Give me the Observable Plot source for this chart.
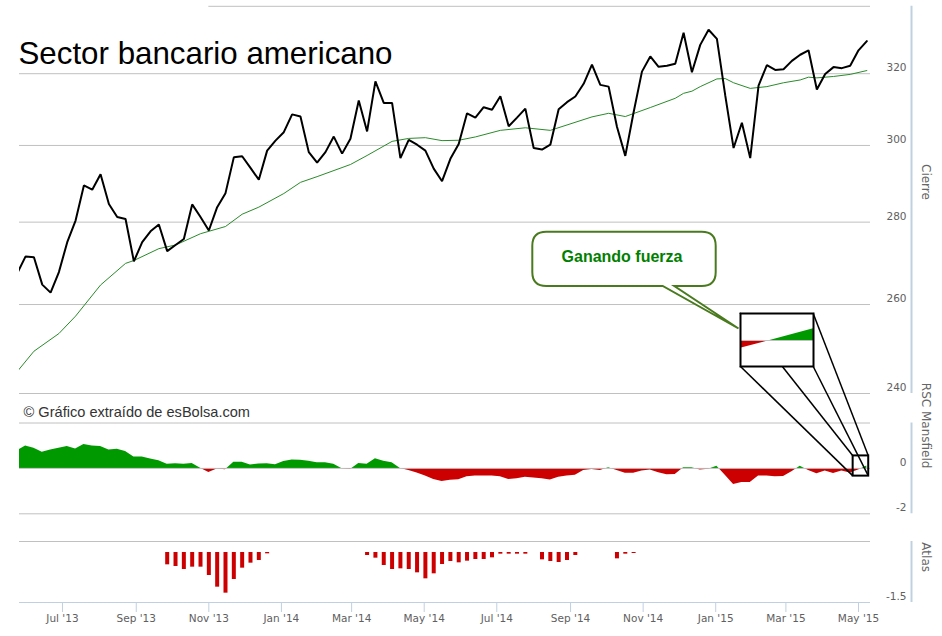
<!DOCTYPE html>
<html><head><meta charset="utf-8">
<script src="https://cdn.jsdelivr.net/npm/d3@7"></script>
<script src="https://cdn.jsdelivr.net/npm/@observablehq/plot@0.6"></script>
<style>
html,body{margin:0;padding:0;background:#fff;}
#chart{position:relative;width:942px;height:636px;overflow:hidden;background:#fff;}
</style></head><body><div id="chart"></div>
<script>
// ---------- data ----------
const titleText = "Sector bancario americano";
const sourceText = "© Gráfico extraído de esBolsa.com";
const calloutText = "Ganando fuerza";
const firstWeek = "2013-05-24"; // weekly closes (Fridays)
const closes = [267.4,271.5,271.3,264.7,262.8,267.7,275.0,280.4,289.4,288.3,
  292.3,284.6,281.3,280.8,270.3,275.0,277.7,279.4,272.8,274.3,
  275.8,284.5,281.3,277.9,283.8,287.4,296.8,297.1,294.0,290.9,
  298.6,301.3,303.6,308.5,307.9,298.2,295.4,298.2,302.4,297.8,
  301.8,312.4,303.8,317.8,311.7,311.7,296.6,301.5,300.2,298.6,
  293.8,290.5,296.4,300.4,308.8,307.6,310.5,309.8,313.6,305.2,
  307.6,310.1,299.3,298.9,300.2,309.9,311.9,313.5,317.1,322.6,
  316.8,316.3,305.1,297.2,309.1,320.6,325.0,322.0,322.3,322.9,
  332.0,320.4,328.4,332.9,330.2,313.8,299.3,306.2,296.6,316.6,
  322.5,321.1,321.3,323.7,325.5,326.8,315.5,319.9,321.9,321.6,
  322.3,326.8,329.5];
// moving average read at these week numbers
const maWeek  = [0,2,5,7,10,13,14,17,19,22,25,27,29,32,34,36,40,42,45,47,49,51,53,55,58,61,64,69,71,73,76,79,80,81,82,84,85,86,88,90,92,94,95,96,98,100,102];
const maValue = [244.8,249.3,253.3,257.3,264.6,269.8,270.5,273.4,274.3,277.1,278.9,282.0,283.8,287.3,290.2,291.7,294.9,297.3,301.1,301.9,302.1,301.3,301.4,302.3,304.1,304.8,304.1,307.8,308.8,307.9,310.4,313.0,314.4,315.0,316.3,318.5,318.6,317.4,315.8,316.3,317.4,318.2,319.0,318.8,319.2,319.8,320.9];
// RSC Mansfield, one value per week
const rsc = [0.78,0.99,0.89,0.71,0.81,0.89,0.96,0.86,1.05,0.99,
  0.97,0.81,0.84,0.74,0.50,0.50,0.41,0.34,0.18,0.21,
  0.18,0.22,0.01,-0.18,-0.03,-0.06,0.27,0.27,0.15,0.19,
  0.21,0.16,0.30,0.37,0.36,0.31,0.25,0.25,0.18,-0.02,
  -0.05,0.22,0.18,0.43,0.31,0.25,0.00,-0.09,-0.20,-0.33,
  -0.49,-0.58,-0.52,-0.50,-0.37,-0.34,-0.34,-0.34,-0.37,-0.49,
  -0.46,-0.39,-0.42,-0.46,-0.51,-0.39,-0.34,-0.30,-0.09,-0.05,
  -0.09,0.03,-0.09,-0.21,-0.21,-0.12,-0.07,-0.19,-0.28,-0.27,
  0.03,0.03,-0.07,-0.04,0.09,-0.30,-0.71,-0.62,-0.62,-0.33,
  -0.33,-0.37,-0.36,-0.15,0.10,-0.09,-0.24,-0.12,-0.22,-0.12,
  -0.20,-0.07,0.105];
// Atlas bars (week number, value)
const atlasWeek  = [18,19,20,21,22,23,24,25,26,27,28,29,30,
  42,43,44,45,46,47,48,49,50,51,52,53,54,55,56,57,58,59,60,61,
  63,64,65,66,67,72,73,74];
const atlasValue = [-0.37,-0.42,-0.51,-0.44,-0.44,-0.69,-1.04,-1.22,-0.81,-0.47,-0.32,-0.24,-0.04,
  -0.09,-0.17,-0.39,-0.51,-0.49,-0.51,-0.61,-0.79,-0.64,-0.36,-0.27,-0.31,-0.26,-0.21,-0.21,-0.16,-0.05,-0.05,-0.05,-0.05,
  -0.22,-0.27,-0.30,-0.24,-0.09,-0.19,-0.05,-0.03];
const priceTicks = [240,260,280,300,320];
const priceTop = 340;
const rscTicks = [0,-2];
const atlasTicks = [-1.5];
const monthTicks = ["2013-07-01","2013-09-01","2013-11-01","2014-01-01","2014-03-01","2014-05-01",
  "2014-07-01","2014-09-01","2014-11-01","2015-01-01","2015-03-01","2015-05-01"];
const topGridStart = "2013-11-01";
// magnifier: small box in RSC panel and the segment shown in the inset
const zoomBox = {start:"2015-04-26T12:00Z", end:"2015-05-09T14:00Z", low:-0.34, high:0.55};
const insetWeeks = [101,102];

// ---------- derived tables ----------
const weeks = closes.map((_, i) => d3.utcDay.offset(new Date(firstWeek), 7 * i));
const price = closes.map((c, i) => ({date: weeks[i], close: c}));
const ma = maWeek.map((w, i) => ({date: weeks[w], value: maValue[i]}));
const rscData = rsc.map((v, i) => ({date: weeks[i], v}));
const atlas = atlasWeek.map((w, i) => ({date: weeks[w], v: atlasValue[i]}));
const ticksX = monthTicks.map(d => new Date(d));

// ---------- layout ----------
const W = 942, H = 636, ML = 19, MR = 72;
const xDomain = [new Date("2013-05-25T21:00Z"), new Date("2015-05-11T02:00Z")];
const MAIN = [5.8, 393], RSC = [422.5, 513.3], ATL = [541, 602];
const rscDomain = [-2, 2], atlDomain = [-1.5, 0.33];
const GRID = "#C0C0C0", AXIS = "#C0D0E0", LABEL = "#606060", TITLE = "#666666";
const font = "DejaVu Sans, sans-serif";
const chart = document.getElementById("chart");

function place(el, left = 0, top = 0) {
  el.style.position = "absolute"; el.style.left = left + "px"; el.style.top = top + "px";
  el.style.background = "transparent"; el.style.overflow = "visible"; el.style.maxWidth = "none";
  chart.appendChild(el);
}
function gradient(id, zeroOffset, h) {
  return () => {
    const defs = document.createElementNS("http://www.w3.org/2000/svg", "defs");
    defs.innerHTML = `<linearGradient id="${id}" gradientUnits="userSpaceOnUse" x1="0" y1="0" x2="0" y2="${h}">
      <stop offset="0" stop-color="#009900"/><stop offset="${zeroOffset}" stop-color="#009900"/>
      <stop offset="${zeroOffset}" stop-color="#cc0000"/><stop offset="1" stop-color="#cc0000"/></linearGradient>`;
    return defs;
  };
}
function rightAxis(ticks, fmt) {
  return Plot.axisY({anchor: "right", ticks, tickSize: 0, tickPadding: 36, textAnchor: "end", dy: -6,
    tickFormat: fmt, color: LABEL, fill: LABEL, label: null});
}
const styleOpt = {fontFamily: font, fontSize: "10.5px", background: "transparent", overflow: "visible"};

// main price panel
const mainPlot = Plot.plot({
  width: W, height: H, marginLeft: ML, marginRight: MR, marginTop: MAIN[0], marginBottom: H - MAIN[1],
  style: styleOpt,
  x: {type: "utc", domain: xDomain, axis: null},
  y: {type: "log", domain: [240, priceTop]},
  marks: [
    Plot.ruleY(priceTicks, {stroke: GRID}),
    Plot.ruleY([{y: priceTop, x1: new Date(topGridStart), x2: xDomain[1]}], {y: "y", x1: "x1", x2: "x2", stroke: GRID}),
    Plot.line(ma, {x: "date", y: "value", stroke: "#2a8a2a", strokeWidth: 1, clip: true}),
    Plot.line(price, {x: "date", y: "close", stroke: "#000", strokeWidth: 2, strokeLinejoin: "miter", clip: true}),
    rightAxis(priceTicks, d => String(d)),
    Plot.ruleX([xDomain[1]], {dx: 41, y1: priceTop, y2: 240, stroke: AXIS, strokeWidth: 2}),
    Plot.text(["Cierre"], {frameAnchor: "right", dx: 55, rotate: 90, fill: TITLE, fontSize: 12})
  ]
});
place(mainPlot);

// RSC Mansfield panel
const rscY = d3.scaleLinear(rscDomain, [RSC[1], RSC[0]]);
const rscPlot = Plot.plot({
  width: W, height: H, marginLeft: ML, marginRight: MR, marginTop: RSC[0], marginBottom: H - RSC[1],
  style: styleOpt,
  x: {type: "utc", domain: xDomain, axis: null},
  y: {domain: rscDomain},
  marks: [
    gradient("rscFill", rscY(0) / H, H),
    Plot.ruleY([2, -2], {stroke: GRID}),
    Plot.areaY(rscData, {x: "date", y1: 0, y2: "v", fill: "url(#rscFill)", clip: true}),
    Plot.ruleY([0], {stroke: GRID}),
    Plot.rect([zoomBox], {x1: d => new Date(d.start), x2: d => new Date(d.end), y1: "low", y2: "high",
      fill: "none", stroke: "#000", strokeWidth: 2}),
    rightAxis(rscTicks, d => String(d)),
    Plot.ruleX([xDomain[1]], {dx: 41, y1: 2, y2: -2, stroke: AXIS, strokeWidth: 2}),
    Plot.text(["RSC Mansfield"], {y: () => 0, frameAnchor: "right", dx: 55, rotate: 90, fill: TITLE, fontSize: 12})
  ]
});
place(rscPlot);

// Atlas panel
const atlasPlot = Plot.plot({
  width: W, height: H, marginLeft: ML, marginRight: MR, marginTop: ATL[0], marginBottom: H - ATL[1],
  style: styleOpt,
  x: {type: "utc", domain: xDomain},
  y: {domain: atlDomain},
  marks: [
    Plot.ruleY([atlDomain[1]], {stroke: GRID}),
    Plot.ruleX(atlas, {x: "date", y1: 0, y2: "v", stroke: "#cc0000", strokeWidth: 4, strokeLinecap: "butt"}),
    Plot.ruleY([atlDomain[0]], {stroke: AXIS}),
    Plot.axisX({anchor: "bottom", ticks: ticksX, tickSize: 10, tickPadding: 2, tickFormat: d3.utcFormat("%b '%y"),
      stroke: AXIS, fill: LABEL, label: null}),
    rightAxis(atlasTicks, d => String(d)),
    Plot.ruleX([xDomain[1]], {dx: 41, y1: atlDomain[1], y2: atlDomain[0], stroke: AXIS, strokeWidth: 2}),
    Plot.text(["Atlas"], {frameAnchor: "right", dx: 55, rotate: 90, fill: TITLE, fontSize: 12})
  ]
});
place(atlasPlot);

// ---------- annotations overlay ----------
const xS = d3.scaleUtc(xDomain, [ML, W - MR]);
const inset = {left: 740, top: 313, width: 73, height: 53};
const box = {x1: xS(new Date(zoomBox.start)), x2: xS(new Date(zoomBox.end)), y1: rscY(zoomBox.high), y2: rscY(zoomBox.low)};
const ov = d3.create("svg").attr("width", W).attr("height", H);
ov.append("text").attr("x", 18.5).attr("y", 64.3).attr("font-family", "Liberation Sans, Arial, sans-serif")
  .attr("font-size", 31.3).attr("fill", "#000").text(titleText);
ov.append("text").attr("x", 23.5).attr("y", 417.3).attr("font-family", "Liberation Sans, Arial, sans-serif")
  .attr("font-size", 14.6).attr("fill", "#333").text(sourceText);
// callout bubble
const bL = 532.3, bR = 715.7, bT = 231.7, bB = 286, r = 14;
const bubble = `M${bL + r},${bT} H${bR - r} Q${bR},${bT} ${bR},${bT + r} V${bB - r} Q${bR},${bB} ${bR - r},${bB}
  H674.3 L${inset.left - 1.5},328.5 L662.7,${bB} H${bL + r} Q${bL},${bB} ${bL},${bB - r} V${bT + r} Q${bL},${bT} ${bL + r},${bT} Z`;
ov.append("path").attr("d", bubble).attr("fill", "#fff").attr("stroke", "#4a7a1e").attr("stroke-width", 2);
ov.append("text").attr("x", 622).attr("y", 262).attr("text-anchor", "middle")
  .attr("font-family", "Liberation Sans, Arial, sans-serif").attr("font-weight", "bold")
  .attr("font-size", 16).attr("fill", "#008000").text(calloutText);
// connector lines
const iL = inset.left, iR = inset.left + inset.width, iT = inset.top, iB = inset.top + inset.height;
[[iL, iB, box.x1, box.y2], [iL, iT, box.x1, box.y1], [iR, iB, box.x2, box.y2], [iR, iT, box.x2, box.y1]]
  .forEach(([a, b, c, d]) => ov.append("line").attr("x1", a).attr("y1", b).attr("x2", c).attr("y2", d)
    .attr("stroke", "#000").attr("stroke-width", 1.5));
place(ov.node());

// inset (magnified last segment of RSC)
const insetData = rscData.slice(insetWeeks[0], insetWeeks[1] + 1);
const insetY = [-0.234, 0.243];
const insetZero = inset.height * insetY[1] / (insetY[1] - insetY[0]);
const insetPlot = Plot.plot({
  width: inset.width, height: inset.height, margin: 0,
  style: {background: "#fff", overflow: "visible"},
  x: {type: "utc", domain: [weeks[insetWeeks[0]], weeks[insetWeeks[1]]], axis: null},
  y: {domain: insetY, axis: null},
  marks: [
    gradient("insetFill", insetZero / inset.height, inset.height),
    Plot.areaY(insetData, {x: "date", y1: 0, y2: "v", fill: "url(#insetFill)", clip: true}),
    Plot.ruleY([0], {stroke: GRID}),
    Plot.frame({stroke: "#000", strokeWidth: 2})
  ]
});
place(insetPlot, inset.left, inset.top);
insetPlot.style.background = "#fff";
</script></body></html>
